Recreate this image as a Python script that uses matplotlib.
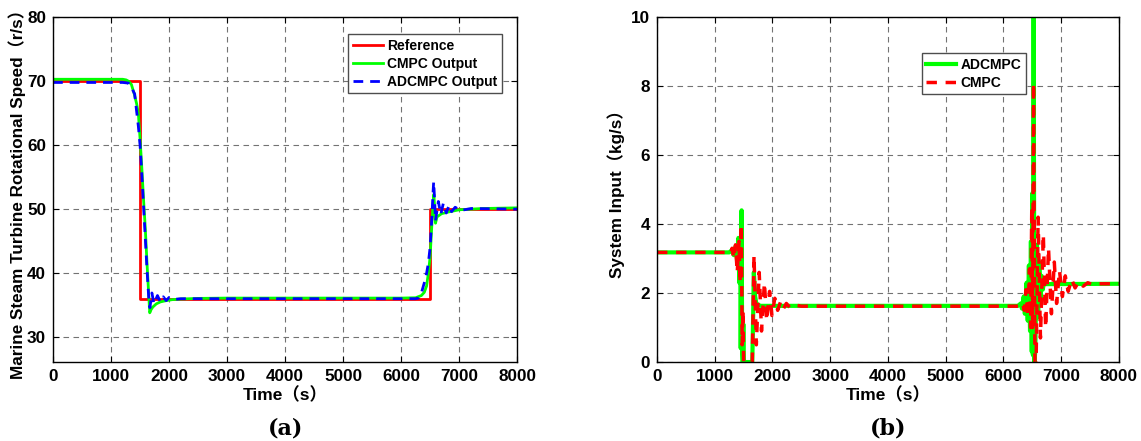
import matplotlib.pyplot as plt

plt.rcParams['font.family'] = ['Liberation Sans', 'Noto Sans CJK SC']
plt.rcParams['font.weight'] = 'bold'

# ---- (a) rotational speed ----
ref_t = [0, 1500, 1500, 6500, 6500, 8000]
ref_v = [70, 70, 36, 36, 50, 50]

cmpc_t = [0, 1200, 1260, 1300, 1350, 1400, 1440, 1470, 1500, 1530, 1560, 1590, 1620, 1650, 1667,
          1690, 1720, 1780, 1850, 1950, 2050, 2200, 2500, 3000, 6000, 6250, 6350, 6400, 6440,
          6470, 6500, 6530, 6550, 6565, 6580, 6593, 6620, 6700, 6840, 7000, 7200, 7400, 8000]
cmpc_v = [70.3, 70.3, 70.2, 70.0, 69.5, 68.0, 66.5, 65.0, 61.0, 56.5, 51.5, 47.0, 41.5, 36.5, 33.8,
          34.3, 34.7, 35.2, 35.5, 35.7, 35.85, 35.95, 36.05, 36.1, 36.1, 36.15, 36.5, 37.0, 38.0,
          40.0, 42.5, 47.5, 50.5, 52.3, 50.0, 47.8, 48.8, 49.3, 49.6, 49.9, 50.0, 50.1, 50.2]

adc_t = [0, 1200, 1300, 1346, 1380, 1407, 1438, 1470, 1500, 1530, 1560, 1590, 1620, 1654, 1670,
         1704, 1740, 1800, 1850, 1900, 1950, 2000, 2100, 2200, 2400, 6000, 6250, 6300, 6350,
         6407, 6440, 6469, 6500, 6531, 6550, 6562, 6580, 6593, 6642, 6685, 6728, 6778, 6827,
         6870, 6932, 7025, 7210, 8000]
adc_v = [69.8, 69.8, 69.7, 69.0, 68.5, 68.0, 65.5, 63.0, 60.0, 55.5, 50.5, 45.5, 40.5, 35.5, 34.6,
         36.9, 35.2, 36.5, 35.5, 36.3, 35.7, 36.2, 35.9, 36.0, 36.0, 36.0, 36.0, 36.1, 36.9,
         38.7, 40.0, 41.5, 44.0, 48.8, 52.5, 54.3, 51.0, 48.2, 51.2, 49.2, 50.9, 49.4, 50.6,
         49.6, 50.3, 49.8, 50.1, 50.0]

# ---- (b) system input ----
in_adc_t = [0, 1250, 1300, 1330, 1360, 1390, 1410, 1425, 1440, 1450, 1465, 1475, 1485, 1495, 1505,
            1520, 1650, 1664, 1677, 1700, 1720, 1760, 1800, 6250, 6300, 6320, 6350, 6370, 6400,
            6420, 6440, 6460, 6475, 6490, 6500, 6510, 6522, 6535, 6550, 6580, 6600, 6620, 6640,
            6660, 6680, 6700, 6730, 8000]
in_adc_v = [3.18, 3.18, 3.25, 3.1, 3.35, 2.9, 3.6, 2.3, 3.6, 0.4, 4.4, 0.3, 0.0, 1.1, 0.0,
            0.0, 0.0, 1.2, 2.6, 1.9, 1.7, 1.65, 1.63, 1.63, 1.7, 1.55, 1.9, 1.4, 2.3,
            1.2, 2.8, 0.9, 3.5, 0.3, 4.9, 0.2, 10.5, 0.0, 0.3, 3.4, 1.3, 2.9, 1.8,
            2.5, 2.1, 2.3, 2.26, 2.27]

in_cmpc_t = [0, 1250, 1280, 1300, 1330, 1360, 1390, 1420, 1440, 1460, 1475, 1490, 1500, 1650, 1680,
             1720, 1770, 1810, 1860, 1900, 1950, 1990, 2040, 2090, 2140, 2190, 2240, 2300, 2400,
             2500, 6300, 6330, 6360, 6390, 6420, 6450, 6470, 6490, 6505, 6520, 6545, 6565, 6600,
             6640, 6690, 6730, 6780, 6830, 6880, 6920, 6970, 7020, 7070, 7120, 7180, 7240, 7300,
             7380, 7460, 7550, 7650, 8000]
in_cmpc_v = [3.18, 3.18, 3.15, 3.3, 3.0, 3.4, 2.6, 3.5, 2.3, 4.0, 0.5, 1.5, 0.0, 0.0, 3.1,
             0.5, 2.6, 0.9, 2.3, 1.2, 2.05, 1.35, 1.85, 1.5, 1.75, 1.55, 1.7, 1.58, 1.65,
             1.62, 1.62, 1.7, 1.5, 2.1, 1.3, 2.7, 1.0, 4.5, 1.0, 8.1, 0.0, 0.0, 4.2,
             0.7, 3.7, 1.0, 3.3, 1.4, 2.9, 1.7, 2.65, 1.9, 2.5, 2.05, 2.4, 2.15, 2.33,
             2.2, 2.3, 2.24, 2.27, 2.27]

fig = plt.figure(figsize=(11.41, 4.41), dpi=100)
ax1 = fig.add_axes([0.0465, 0.179, 0.4067, 0.782])
ax2 = fig.add_axes([0.5758, 0.179, 0.4049, 0.782])

ax1.plot(ref_t, ref_v, color='#ff0000', lw=2, label='Reference')
ax1.plot(cmpc_t, cmpc_v, color='#00ff00', lw=2, label='CMPC Output')
ax1.plot(adc_t, adc_v, color='#0000ff', lw=2, ls=(0, (3.5, 2.5)), label='ADCMPC Output')
ax1.set_ylim(26.1, 80)
ax1.set_yticks([30, 40, 50, 60, 70, 80])
ax1.set_ylabel('Marine Steam Turbine Rotational Speed（r/s）', fontsize=12.3, fontweight='bold', labelpad=1)
ax1.legend(loc='upper right', bbox_to_anchor=(0.982, 0.97), fancybox=False,
           edgecolor='0.3', framealpha=1, borderpad=0.3, labelspacing=0.3, handlelength=2.2,
           handletextpad=0.3, prop={'weight': 'bold', 'size': 10})

ax2.plot(in_adc_t, in_adc_v, color='#00ff00', lw=3, label='ADCMPC')
ax2.plot(in_cmpc_t, in_cmpc_v, color='#ff0000', lw=2.5, ls=(0, (3, 2.5)), label='CMPC')
ax2.set_ylim(0, 10)
ax2.set_yticks([0, 2, 4, 6, 8, 10])
ax2.set_ylabel('System Input（kg/s）', fontsize=12.3, fontweight='bold', labelpad=4)
ax2.legend(loc='upper left', bbox_to_anchor=(0.558, 0.915), fancybox=False,
           edgecolor='0.3', framealpha=1, borderpad=0.3, labelspacing=0.3, handlelength=2.2,
           handletextpad=0.3, prop={'weight': 'bold', 'size': 10})

for ax in (ax1, ax2):
    ax.set_xlim(0, 8000)
    ax.set_xticks(range(0, 8001, 1000))
    ax.set_xlabel('Time（s）', fontsize=12.5, fontweight='bold', labelpad=2)
    ax.grid(True, color='0.45', ls=(0, (5, 4)), lw=0.8)
    ax.tick_params(direction='in', top=True, right=True, labelsize=12.3, length=4, pad=5)
    for lab in ax.get_xticklabels() + ax.get_yticklabels():
        lab.set_fontweight('bold')
    for s in ax.spines.values():
        s.set_linewidth(1.0)

fig.text(0.25, 0.015, '(a)', family='DejaVu Serif', fontsize=16, fontweight='bold', ha='center')
fig.text(0.778, 0.015, '(b)', family='DejaVu Serif', fontsize=16, fontweight='bold', ha='center')

fig.savefig('out.png', dpi=100)
